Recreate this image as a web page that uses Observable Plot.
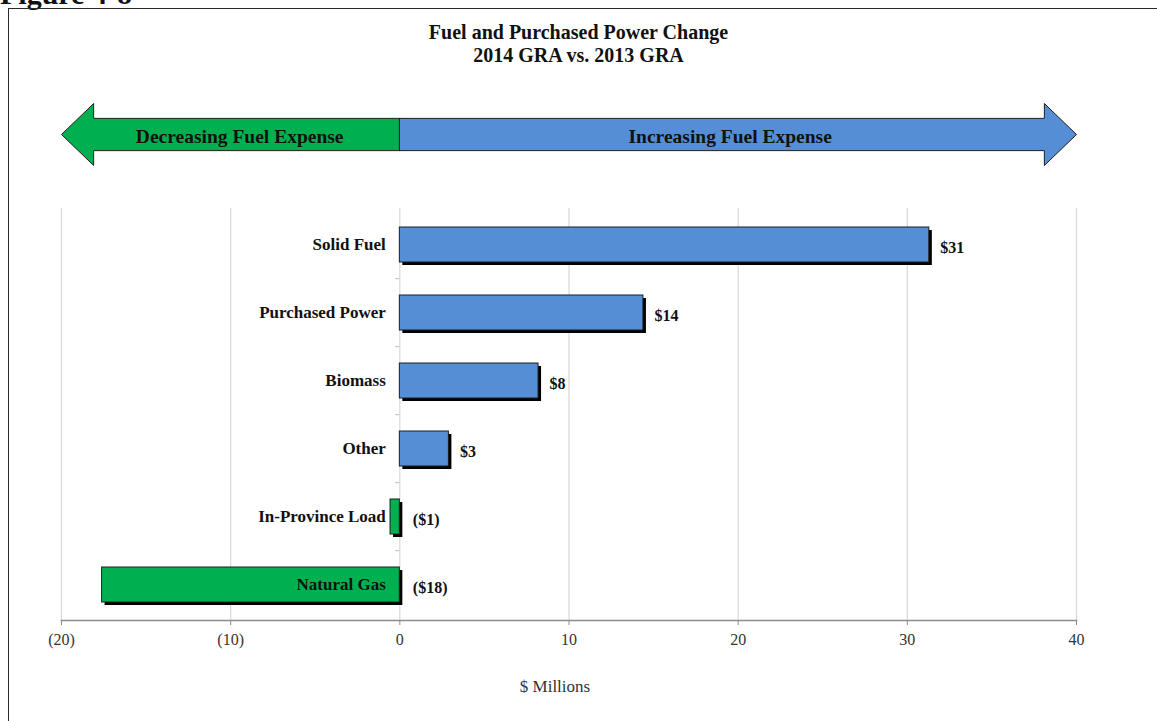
<!DOCTYPE html>
<html>
<head>
<meta charset="utf-8">
<script src="https://cdn.jsdelivr.net/npm/d3@7"></script>
<script src="https://cdn.jsdelivr.net/npm/@observablehq/plot@0.6"></script>
<style>
  html, body { margin: 0; padding: 0; background: #fff; }
  body {
    width: 1157px; height: 721px; position: relative; overflow: hidden;
    font-family: "Liberation Serif", "Times New Roman", serif; color: #111;
  }
  #figno { position: absolute; left: 0; top: -21px; font-weight: bold; font-size: 30px; line-height: 30px; }
  #frame {
    position: absolute; left: 8px; top: 8px; width: 1200px; height: 800px;
    border: 1.5px solid #2a2a2a; box-sizing: border-box; z-index: 5; pointer-events: none;
  }
  #title {
    position: absolute; left: 0; top: 21px; width: 1157px; text-align: center;
    font-weight: bold; font-size: 20px; line-height: 23px;
  }
  #arrow { position: absolute; left: 0; top: 95px; }
  #chart { position: absolute; left: 0; top: 195px; }
  #xlabel {
    position: absolute; left: 455px; width: 200px; top: 677px; text-align: center;
    font-size: 17px; line-height: 20px; color: #333;
  }
</style>
</head>
<body>
<div id="figno">Figure 4-8</div>
<div id="frame"></div>
<div id="title">Fuel and Purchased Power Change<br>2014 GRA vs. 2013 GRA</div>
<div id="arrow"></div>
<div id="chart"></div>
<div id="xlabel">$ Millions</div>
<script>
// Change in fuel and purchased power cost by component, $ millions
const categories = ["Solid Fuel", "Purchased Power", "Biomass", "Other", "In-Province Load", "Natural Gas"];
const changes = [31.3, 14.4, 8.2, 2.9, -0.55, -17.6];

// Horizontal axis
const xDomain = [-20, 40];
const xTicks = [-20, -10, 0, 10, 20, 30, 40];
const xTickLabels = ["(20)", "(10)", "0", "10", "20", "30", "40"];

// Direction banner
const arrowLabels = ["Decreasing Fuel Expense", "Increasing Fuel Expense"];

const BLUE = "#558ED5";
const GREEN = "#00B050";
const OUTLINE = "#1e1e1e";

const W = 1157;
const marginLeft = 61, marginRight = 81;

const rows = categories.map((c, i) => ({category: c, value: changes[i]}));
const money = v => v < 0 ? `($${Math.round(-v)})` : `$${Math.round(v)}`;

// ---- Banner arrow (shares the x scale of the chart) ----
const headLen = 1.9, shaft = 0.52;
const leftArrow = [
  {x: 0, y: shaft}, {x: xDomain[0] + headLen, y: shaft}, {x: xDomain[0] + headLen, y: 1},
  {x: xDomain[0], y: 0},
  {x: xDomain[0] + headLen, y: -1}, {x: xDomain[0] + headLen, y: -shaft}, {x: 0, y: -shaft}
];
const rightArrow = [
  {x: 0, y: shaft}, {x: xDomain[1] - headLen, y: shaft}, {x: xDomain[1] - headLen, y: 1},
  {x: xDomain[1], y: 0},
  {x: xDomain[1] - headLen, y: -1}, {x: xDomain[1] - headLen, y: -shaft}, {x: 0, y: -shaft}
];

const arrowPlot = Plot.plot({
  width: W, height: 80,
  marginLeft, marginRight, marginTop: 0, marginBottom: 0,
  style: {background: "transparent", fontFamily: "Liberation Serif, Times New Roman, serif"},
  x: {domain: xDomain, axis: null},
  y: {domain: [-1, 1], range: [70, 8], axis: null},
  marks: [
    Plot.line(leftArrow, {x: "x", y: "y", curve: "linear-closed", fill: GREEN, stroke: OUTLINE, strokeWidth: 1}),
    Plot.line(rightArrow, {x: "x", y: "y", curve: "linear-closed", fill: BLUE, stroke: OUTLINE, strokeWidth: 1}),
    Plot.text([arrowLabels[0]], {x: (xDomain[0] + 0) / 2, y: 0, text: d => d, dx: 9, dy: 2,
      fontSize: 19.5, fontWeight: "bold", fill: "#111"}),
    Plot.text([arrowLabels[1]], {x: (xDomain[1] + 0) / 2, y: 0, text: d => d, dx: -8, dy: 2,
      fontSize: 19.5, fontWeight: "bold", fill: "#111"})
  ]
});
document.getElementById("arrow").append(arrowPlot);

// ---- Bar chart ----
const H = 525, marginTop = 13, marginBottom = 100;
const step = (H - marginTop - marginBottom) / categories.length;

const chart = Plot.plot({
  width: W, height: H,
  marginLeft, marginRight, marginTop, marginBottom,
  style: {background: "transparent", fontFamily: "Liberation Serif, Times New Roman, serif", fontSize: "16px"},
  x: {domain: xDomain},
  y: {domain: categories, paddingInner: 0.49, paddingOuter: 0.245, axis: null},
  marks: [
    Plot.gridX(xTicks, {stroke: "#d9d9d9", strokeOpacity: 1, strokeWidth: 1.2}),
    // category separators on the zero line
    Plot.ruleY(categories.slice(1), {y: d => d, x1: -0.25, x2: 0, dy: -step / 2, stroke: "#bdbdbd"}),
    Plot.frame({anchor: "bottom", stroke: "#8c8c8c", strokeWidth: 1.6}),
    Plot.axisX({
      ticks: xTicks,
      tickFormat: d => xTickLabels[xTicks.indexOf(d)],
      tickSize: 5, tickPadding: 8,
      stroke: "#8c8c8c", fill: "#333", fontSize: 16,
      label: null
    }),
    // drop shadows
    Plot.barX(rows, {y: "category", x1: 0, x2: "value", dx: 3, dy: 3, fill: "#000"}),
    Plot.barX(rows, {y: "category", x1: 0, x2: "value",
      fill: d => d.value >= 0 ? BLUE : GREEN, stroke: OUTLINE, strokeWidth: 1}),
    Plot.text(rows, {y: "category", x: 0, text: "category", textAnchor: "end", dx: -14,
      fontSize: 17, fontWeight: "bold", fill: "#111"}),
    Plot.text(rows.filter(d => d.value >= 0), {y: "category", x: "value", text: d => money(d.value),
      textAnchor: "start", dx: 11, dy: 3, fontSize: 16, fontWeight: "bold", fill: "#111"}),
    Plot.text(rows.filter(d => d.value < 0), {y: "category", x: 0, text: d => money(d.value),
      textAnchor: "start", dx: 13, dy: 3, fontSize: 16, fontWeight: "bold", fill: "#111"})
  ]
});
document.getElementById("chart").append(chart);
</script>
</body>
</html>
